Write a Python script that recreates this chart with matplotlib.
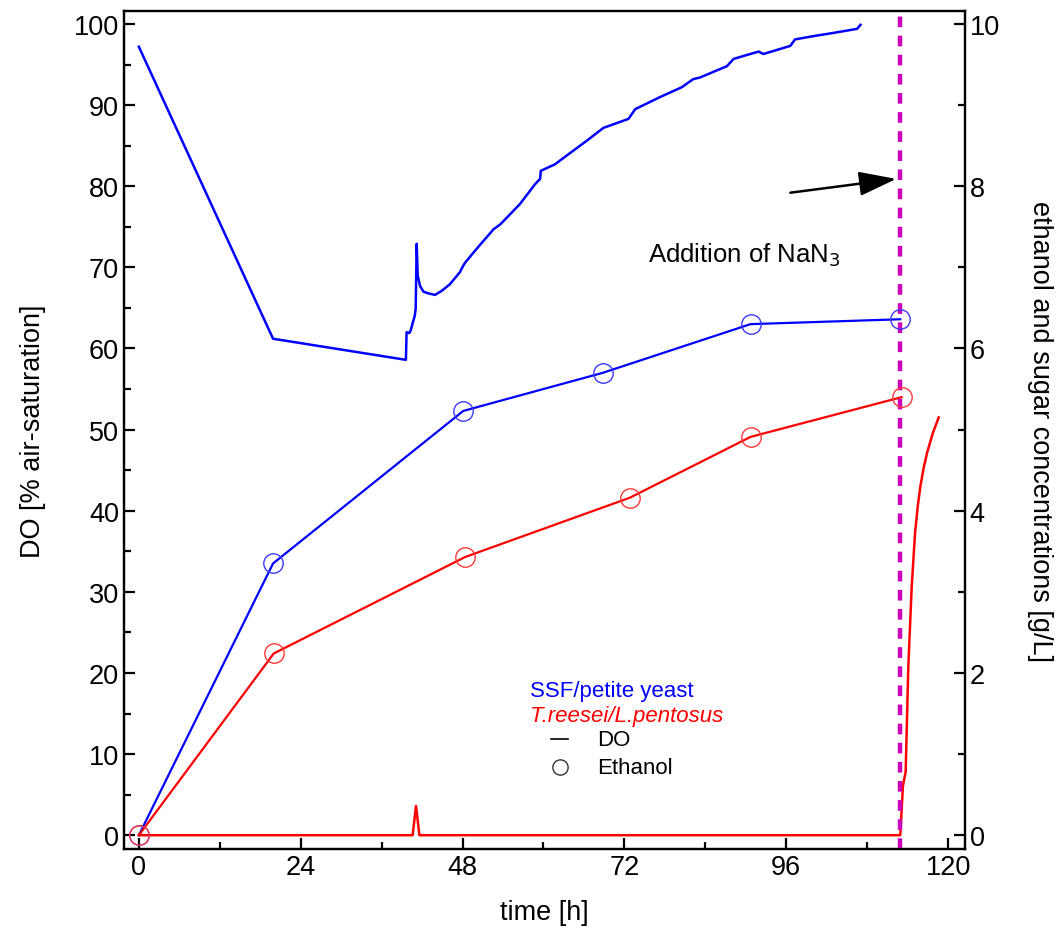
import matplotlib
matplotlib.use("Agg")
import matplotlib.pyplot as plt
from matplotlib.ticker import MultipleLocator

plt.rcParams['font.family'] = ['Liberation Sans', 'DejaVu Sans']

# ---- data ----
# DO of SSF / petite yeast (blue), % air saturation
do_blue_t = [0, 19.9, 39.6, 39.7, 40.1, 40.3, 40.9, 41.05, 41.2, 41.35, 41.7, 42.2, 42.9,
             43.9, 44.9, 46.1, 47.6, 48.1, 48.4, 50.1, 52.6, 53.6, 56.5, 58.8, 59.5, 59.6,
             61.7, 62.5, 66.4, 68.9, 72.6, 73.6, 77.3, 80.5, 82.2, 83.2, 87.2, 88.2, 91.9,
             92.6, 96.6, 97.3, 100.0, 103.0, 106.5, 107.0]
do_blue_v = [97.2, 61.2, 58.6, 62.0, 61.9, 62.2, 64.0, 64.9, 72.9, 69.0, 67.7, 67.0, 66.8,
             66.6, 67.1, 67.9, 69.4, 70.2, 70.6, 72.3, 74.7, 75.3, 77.8, 80.3, 80.9, 81.9,
             82.7, 83.2, 85.6, 87.2, 88.3, 89.5, 91.0, 92.2, 93.2, 93.4, 94.8, 95.7, 96.6,
             96.3, 97.3, 98.1, 98.5, 98.9, 99.4, 99.9]

# DO of T.reesei / L.pentosus (red)
do_red_t = [0, 40.6, 41.1, 41.6, 112.9, 113.3, 113.7, 114.1, 114.6, 115.1, 115.5,
            115.9, 116.4, 116.9, 117.7, 118.6]
do_red_v = [0, 0, 3.6, 0, 0, 6.1, 7.8, 20.9, 30.7, 37.3, 40.6,
            43.1, 45.4, 47.2, 49.5, 51.5]

# Ethanol [g/L]
eth_blue_t = [0, 19.9, 48.1, 68.8, 90.7, 112.9]
eth_blue_v = [0, 3.35, 5.23, 5.70, 6.30, 6.36]
eth_red_t = [0, 20.0, 48.4, 72.8, 90.7, 113.1]
eth_red_v = [0, 2.24, 3.43, 4.16, 4.91, 5.40]

nan3_time = 112.9

x_ticks = [0, 24, 48, 72, 96, 120]
yl_ticks = [0, 10, 20, 30, 40, 50, 60, 70, 80, 90, 100]
yr_ticks = [0, 2, 4, 6, 8, 10]

# ---- figure ----
fig = plt.figure(figsize=(10.6, 9.37), dpi=100)
ax = fig.add_axes([124/1060, 1-850/937, (965-124)/1060, (850-12)/937])
ax2 = ax.twinx()

ax.set_xlim(-2.2, 122.5)
ax.set_ylim(-1.7, 101.6)
ax2.set_ylim(-0.17, 10.16)

blue = '#0000FF'
red = '#FF0000'

ax.plot(do_blue_t, do_blue_v, color=blue, lw=1.8, zorder=3)
ax.plot(do_red_t, do_red_v, color=red, lw=1.8, zorder=3)

ax2.plot(eth_blue_t, eth_blue_v, color=blue, lw=1.6, zorder=3)
ax2.plot(eth_blue_t, eth_blue_v, ls='none', marker='o', ms=14, mfc='none',
         mec='#3A3AFF', mew=1.0, zorder=4)
ax2.plot(eth_red_t, eth_red_v, color=red, lw=1.6, zorder=3)
ax2.plot(eth_red_t, eth_red_v, ls='none', marker='o', ms=14, mfc='none',
         mec='#FF3A3A', mew=1.0, zorder=4)

ax.axvline(nan3_time, color='#CC00BB', lw=3.2, dashes=(2.4, 1.9), zorder=5)

ax.annotate('', xy=(112.3, 80.9), xytext=(96.6, 79.2),
            arrowprops=dict(arrowstyle='-|>,head_length=2.3,head_width=0.75',
                            color='black', lw=1.8, shrinkA=0, shrinkB=0))
ax.text(75.5, 71.6, 'Addition of NaN$_3$', fontsize=18.5, ha='left', va='center')

# legend-like texts
ax.text(58.0, 17.8, 'SSF/petite yeast', color=blue, fontsize=16, ha='left', va='center')
ax.text(58.0, 14.8, 'T.reesei/L.pentosus', color=red, fontsize=16, style='italic',
        ha='left', va='center')
ax.plot([61.1, 63.6], [11.8, 11.8], color='black', lw=1.2)
ax.text(68.0, 11.8, 'DO', fontsize=16, ha='left', va='center')
ax.plot([62.5], [8.4], ls='none', marker='o', ms=11, mfc='none', mec='#333333', mew=1.0)
ax.text(68.0, 8.4, 'Ethanol', fontsize=16, ha='left', va='center')

# axes styling
ax.set_xticks(x_ticks)
ax.set_yticks(yl_ticks)
ax2.set_yticks(yr_ticks)
ax.xaxis.set_minor_locator(MultipleLocator(12))
ax.yaxis.set_minor_locator(MultipleLocator(5))
ax2.yaxis.set_minor_locator(MultipleLocator(1))

for a in (ax, ax2):
    for s in a.spines.values():
        s.set_linewidth(1.6)
ax.tick_params(axis='both', which='major', direction='in', length=8, width=1.6,
               labelsize=19.5, top=False, right=False)
ax.tick_params(axis='both', which='minor', direction='in', length=5, width=1.6,
               top=False, right=False)
ax2.tick_params(axis='y', which='major', direction='in', length=8, width=1.6, labelsize=19.5)
ax2.tick_params(axis='y', which='minor', direction='in', length=5, width=1.6)

ax.set_xlabel('time [h]', fontsize=19.5, labelpad=14)
ax.set_ylabel('DO [% air-saturation]', fontsize=19.5, labelpad=20)
ax2.set_ylabel('ethanol and sugar concentrations [g/L]', fontsize=19.5, rotation=270,
               labelpad=38)

fig.savefig('out.png', dpi=100)
